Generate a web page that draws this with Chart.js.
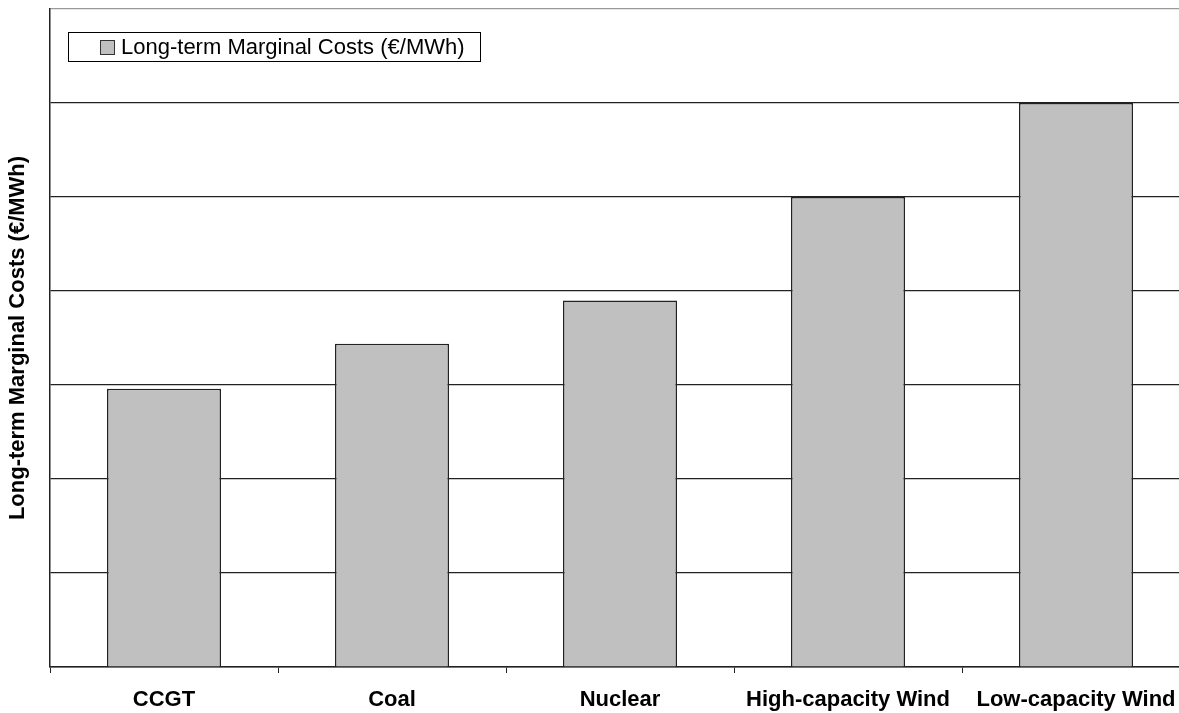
<!DOCTYPE html>
<html>
<head>
<meta charset="utf-8">
<script src="https://cdn.jsdelivr.net/npm/chart.js@4"></script>
<style>
  html, body { margin: 0; padding: 0; background: #fff; overflow: hidden; }
</style>
</head>
<body>
<canvas id="costChart" width="1200" height="713"></canvas>
<script>
// categories and values (grid step = 10, no tick labels shown in the original)
const technologies = ["CCGT", "Coal", "Nuclear", "High-capacity Wind", "Low-capacity Wind"]
const marginalCosts = [29.6, 34.4, 39.0, 50.0, 60.0]
const seriesLabel = "Long-term Marginal Costs (€/MWh)"
const yMax = 70
const yStep = 10

const FONT = "'Liberation Sans', Arial, sans-serif"

// legend drawn inside the plot area with a box round it, like the original
const boxedLegend = {
    id: 'boxedLegend',
    afterDraw(chart) {
        const ctx = chart.ctx
        const ds = chart.data.datasets[0]
        ctx.save()
        ctx.fillStyle = '#fff'
        ctx.fillRect(68.5, 32.5, 412, 29)
        ctx.strokeStyle = '#000'
        ctx.lineWidth = 1
        ctx.strokeRect(68.5, 32.5, 412, 29)
        ctx.fillStyle = ds.backgroundColor
        ctx.fillRect(100.5, 40.5, 14, 14)
        ctx.strokeStyle = '#333'
        ctx.strokeRect(100.5, 40.5, 14, 14)
        ctx.fillStyle = '#000'
        ctx.font = "22px " + FONT
        ctx.textBaseline = 'middle'
        ctx.fillText(ds.label, 121, 48)
        ctx.restore()
    }
}

new Chart("costChart", {
    type: 'bar',
    data: {
        labels: technologies,
        datasets: [{
            label: seriesLabel,
            data: marginalCosts,
            backgroundColor: '#c0c0c0',
            borderColor: '#222',
            borderWidth: 1.5,
            barPercentage: 0.5,
            categoryPercentage: 1.0,
        }]
    },
    options: {
        responsive: false,
        animation: false,
        layout: {
            padding: { top: 9, right: 10, left: 0, bottom: 0 }
        },
        plugins: {
            legend: { display: false },
            tooltip: { enabled: false },
        },
        scales: {
            x: {
                offset: true,
                grid: {
                    display: true,
                    offset: true,
                    drawOnChartArea: false,
                    drawTicks: true,
                    tickLength: 6,
                    color: '#222',
                },
                border: { display: true, color: '#222', width: 1.5 },
                ticks: {
                    color: '#000',
                    padding: 14,
                    maxRotation: 0,
                    autoSkip: false,
                    font: { family: FONT, size: 22, weight: 'bold' },
                },
                afterFit(scale) { scale.height = 46 },
            },
            y: {
                min: 0,
                max: yMax,
                ticks: { display: false, stepSize: yStep },
                grid: {
                    drawTicks: false,
                    lineWidth: 1.2,
                    color: (c) => (c.tick && c.tick.value == yMax) ? '#999' : '#222',
                },
                border: { display: true, color: '#222', width: 1.5 },
                title: {
                    display: true,
                    text: seriesLabel,
                    color: '#000',
                    padding: { top: 5, bottom: 0 },
                    font: { family: FONT, size: 22, weight: 'bold' },
                },
                afterFit(scale) { scale.width = 50 },
            },
        },
    },
    plugins: [boxedLegend]
})
</script>
</body>
</html>
